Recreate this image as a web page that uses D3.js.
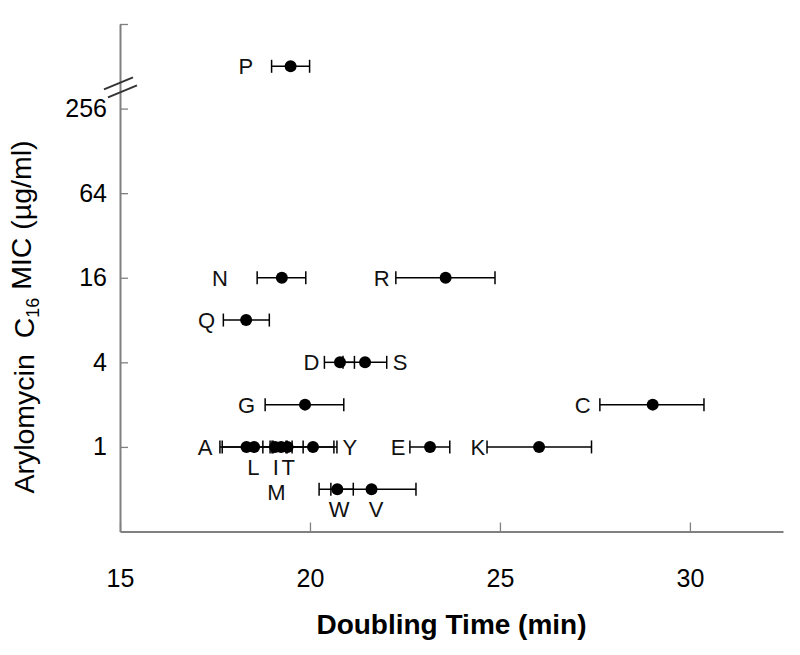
<!DOCTYPE html>
<html>
<head>
<meta charset="utf-8">
<script src="https://cdn.jsdelivr.net/npm/d3@7"></script>
<style>
  body { margin: 0; background: #fff; }
  svg { font-family: "Liberation Sans", Arial, sans-serif; }
</style>
</head>
<body>
<svg></svg>
<script>
//* Values: one entry per strain
const strains = ["P", "N", "R", "Q", "D", "S", "G", "C", "A", "L", "I", "M", "T", "Y", "E", "K", "W", "V"];
const doublingTime = [19.49, 19.26, 23.57, 18.32, 20.79, 21.45, 19.87, 29.02, 18.33, 18.53, 19.08, 19.24, 19.41, 20.08, 23.16, 26.03, 20.72, 21.62];
const timeLow = [18.99, 18.61, 22.26, 17.72, 20.38, 20.87, 18.82, 27.63, 17.63, 17.69, 18.76, 18.95, 19.00, 19.53, 22.63, 24.66, 20.24, 20.55];
const timeHigh = [19.99, 19.89, 24.87, 18.93, 21.17, 22.02, 20.89, 30.37, 19.03, 19.37, 19.40, 20.71, 19.82, 20.63, 23.68, 27.41, 21.14, 22.79];
const mic = [512, 16, 16, 8, 4, 4, 2, 2, 1, 1, 1, 1, 1, 1, 1, 1, 0.5, 0.5];

// where each letter sits, in the same units as the data
const labelTime = [18.31, 17.63, 21.89, 17.28, 20.04, 22.37, 18.33, 27.18, 17.24, 18.51, 19.10, 19.12, 19.43, 21.05, 22.32, 24.42, 20.77, 21.74];
const labelMic = [512, 16, 16, 8, 4, 4, 2, 2, 1, 0.72, 0.72, 0.48, 0.72, 1, 1, 1, 0.36, 0.36];

const xTicks = [15, 20, 25, 30];
const yTicks = [1, 4, 16, 64, 256, 1024];
const yTickLabels = ["1", "4", "16", "64", "256", ""];

const width = 800;
const height = 655;
const axisColor = "#808080";

const points = strains.map((s, i) => ({
  strain: s,
  time: doublingTime[i],
  low: timeLow[i],
  high: timeHigh[i],
  mic: mic[i],
  labelTime: labelTime[i],
  labelMic: labelMic[i]
}));

const x = d3.scaleLinear()
  .domain([15, 32.45])
  .range([120, 783]);

const y = d3.scaleLog()
  .base(2)
  .domain([0.25, 1024])
  .range([531.5, 24]);

const svg = d3.select("svg")
  .attr("width", width)
  .attr("height", height);

//* Axes, ticks pointing into the plot
const xAxis = svg.append("g")
  .attr("transform", `translate(0, ${y.range()[0]})`)
  .call(d3.axisBottom(x)
    .tickValues(xTicks)
    .tickSizeInner(-9)
    .tickSizeOuter(0)
    .tickPadding(38));

const yAxis = svg.append("g")
  .attr("transform", `translate(${x.range()[0]}, 0)`)
  .call(d3.axisLeft(y)
    .tickValues(yTicks)
    .tickFormat((d, i) => yTickLabels[i])
    .tickSizeInner(-8)
    .tickSizeOuter(0)
    .tickPadding(13));

[xAxis, yAxis].forEach(g => {
  g.attr("font-family", null).attr("font-size", 25);
  g.select(".domain").attr("stroke", axisColor).attr("stroke-width", 2);
  g.selectAll(".tick line").attr("stroke", axisColor).attr("stroke-width", 1.3);
  g.selectAll(".tick text").attr("fill", "#000");
});

// axis break between 256 and the ">256" strain
const breakY = y(Math.sqrt(256 * 512));
const breakX = x.range()[0] + 1;
[-4, 4].forEach(off => {
  svg.append("line")
    .attr("x1", breakX - 15 + off * 0.5)
    .attr("y1", breakY + off + 6)
    .attr("x2", breakX + 14 + off * 0.5)
    .attr("y2", breakY + off - 6)
    .attr("stroke", "#333")
    .attr("stroke-width", 2);
});

//* Error bars and points
const marks = svg.append("g")
  .selectAll("g")
  .data(points)
  .enter()
  .append("g");

marks.append("line")
  .attr("x1", d => x(d.low))
  .attr("x2", d => x(d.high))
  .attr("y1", d => y(d.mic))
  .attr("y2", d => y(d.mic))
  .attr("stroke", "#000")
  .attr("stroke-width", 1.5);

["low", "high"].forEach(end => {
  marks.append("line")
    .attr("x1", d => x(d[end]))
    .attr("x2", d => x(d[end]))
    .attr("y1", d => y(d.mic) - 6.5)
    .attr("y2", d => y(d.mic) + 6.5)
    .attr("stroke", "#000")
    .attr("stroke-width", 1.5);
});

marks.append("circle")
  .attr("cx", d => x(d.time))
  .attr("cy", d => y(d.mic))
  .attr("r", 6)
  .attr("fill", "#000");

svg.append("g")
  .selectAll("text")
  .data(points)
  .enter()
  .append("text")
    .attr("x", d => x(d.labelTime))
    .attr("y", d => y(d.labelMic))
    .attr("dy", "0.36em")
    .attr("text-anchor", "middle")
    .attr("font-size", 22)
    .attr("fill", "#111")
    .text(d => d.strain);

//* Axis titles
svg.append("text")
  .attr("x", (x.range()[0] + x.range()[1]) / 2)
  .attr("y", 634)
  .attr("text-anchor", "middle")
  .attr("font-size", 28)
  .attr("font-weight", "bold")
  .text("Doubling Time (min)");

const yTitle = svg.append("text")
  .attr("transform", "translate(34, 317) rotate(-90)")
  .attr("text-anchor", "middle")
  .attr("font-size", 28.5);

yTitle.append("tspan").text("Arylomycin\u00a0\u00a0C");
yTitle.append("tspan")
  .attr("font-size", 18)
  .attr("dy", "0.25em")
  .text("16");
yTitle.append("tspan")
  .attr("dy", "-0.25em")
  .text(" MIC (µg/ml)");
</script>
</body>
</html>
